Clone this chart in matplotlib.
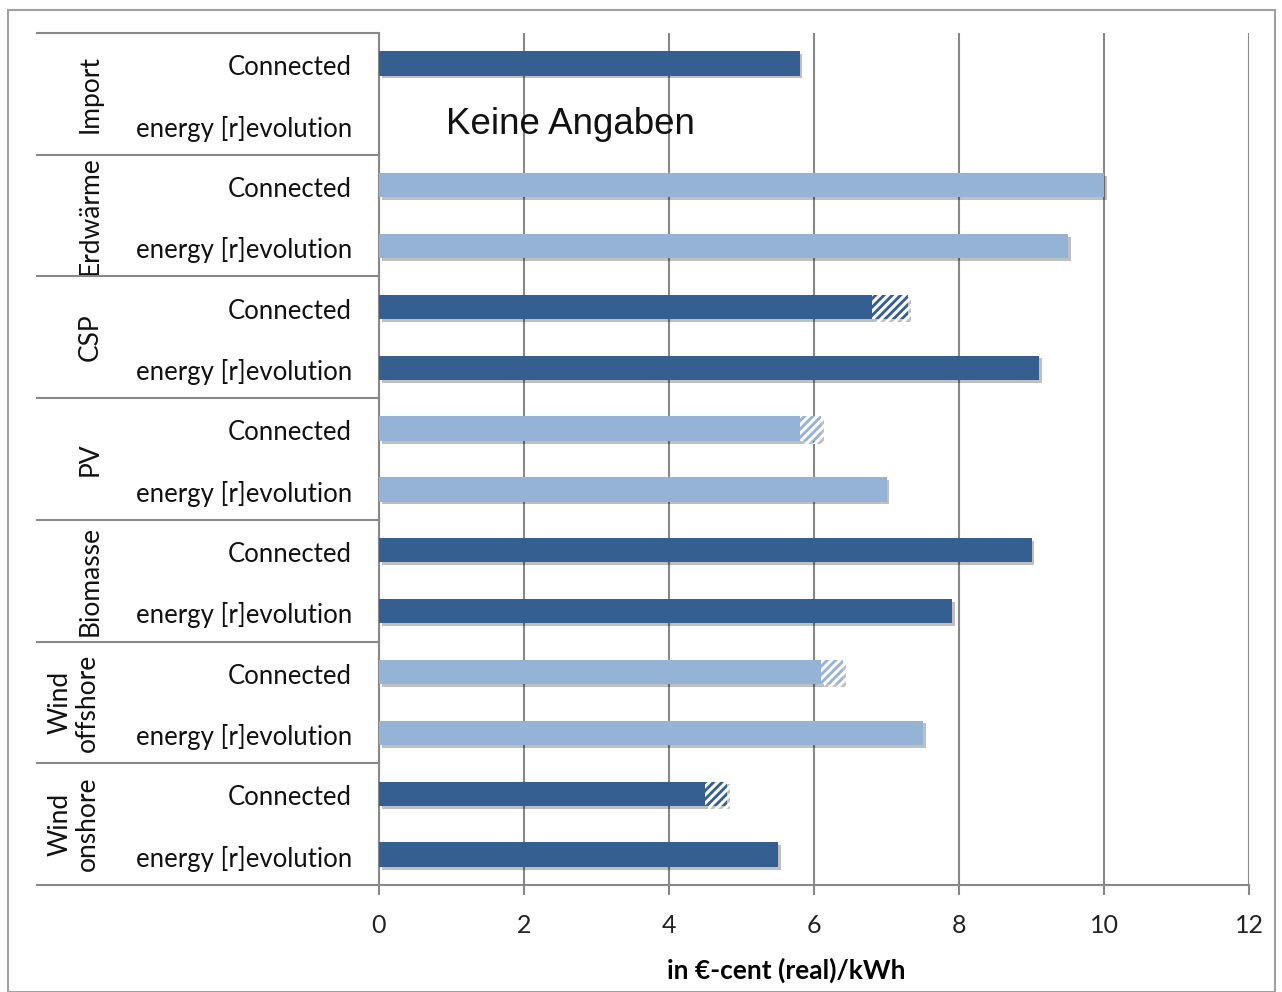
import matplotlib
matplotlib.use("Agg")
import matplotlib.pyplot as plt
import matplotlib.transforms as mtransforms
import matplotlib.patheffects as pe
from matplotlib.patches import Rectangle
import numpy as np

# ---- data ----
groups = ["Import", "Erdwärme", "CSP", "PV", "Biomasse", "Wind\noffshore", "Wind\nonshore"]
subcats = ["Connected", "energy [r]evolution"]
# base value per group: [Connected, energy [r]evolution]
base_connected = [5.8, 10.0, 6.8, 5.8, 9.0, 6.1, 4.5]
base_revolution = [np.nan, 9.5, 9.1, 7.0, 7.9, 7.5, 5.5]
# hatched range extension (Connected only)
hatch_connected = [0.0, 0.0, 0.5, 0.3, 0.0, 0.3, 0.3]
group_shade = ["dark", "light", "dark", "light", "dark", "light", "dark"]
no_data_text = "Keine Angaben"
xticks = [0, 2, 4, 6, 8, 10, 12]
xlabel = "in €-cent (real)/kWh"

colors = {"dark": "#365F91", "light": "#95B3D7"}

plt.rcParams["hatch.color"] = "white"
plt.rcParams["hatch.linewidth"] = 2.2

FONT = ["Lato", "DejaVu Sans"]

fig = plt.figure(figsize=(12.82, 9.92), dpi=100)
W, H = 1282, 992
ax = fig.add_axes([379 / W, 1 - 885 / H, (1249 - 379) / W, (885 - 33) / H])

# outer frame
fig.patches.append(Rectangle((8 / W, 0 / H), (1275 - 8) / W, (982) / H,
                             transform=fig.transFigure, fill=False,
                             edgecolor="#A0A0A0", linewidth=1.5))

shadow = [pe.SimplePatchShadow(offset=(2, -2), shadow_rgbFace="#000000", alpha=0.25), pe.Normal()]

bar_h = 0.4
for gi, g in enumerate(groups):
    c = colors[group_shade[gi]]
    yc = 2 * gi
    yr = 2 * gi + 1
    # Connected
    total = base_connected[gi] + hatch_connected[gi]
    bb = ax.barh(yc, base_connected[gi], height=bar_h, color=c, zorder=3)
    if hatch_connected[gi] > 0:
        hb = ax.barh(yc, hatch_connected[gi], left=base_connected[gi], height=bar_h,
                     facecolor=c, edgecolor="white", linewidth=0, hatch="////", zorder=3)
        for p in hb:
            p.set_path_effects(shadow)
    for p in bb:
        p.set_path_effects(shadow)
    # energy [r]evolution
    if not np.isnan(base_revolution[gi]):
        rb = ax.barh(yr, base_revolution[gi], height=bar_h, color=c, zorder=3)
        for p in rb:
            p.set_path_effects(shadow)
    else:
        ax.text(0.93, yr, no_data_text, fontsize=26.5, family=["Liberation Sans"],
                va="center", ha="left", color="#111111", zorder=4)

ax.set_ylim(13.5, -0.5)
ax.set_xlim(0, 12)
ax.set_xticks(xticks)
ax.set_xticklabels([str(t) for t in xticks], fontsize=18, family=FONT, color="#222222")
ax.tick_params(axis="x", direction="out", length=7, width=1.5, color="#888888", pad=14)
ax.set_yticks([])
ax.grid(axis="x", color="#888888", linewidth=1.5, zorder=0)
ax.set_axisbelow(True)
for s in ["top", "right"]:
    ax.spines[s].set_visible(False)
ax.spines["left"].set_color("#888888")
ax.spines["left"].set_linewidth(1.5)
ax.spines["bottom"].set_color("#888888")
ax.spines["bottom"].set_linewidth(1.5)

ax.set_xlabel(xlabel, fontsize=19, family=FONT, fontweight="bold", labelpad=10)
ax.xaxis.set_label_coords((786 - 379) / (1249 - 379), -0.085)

# left category table
trans = mtransforms.blended_transform_factory(ax.transAxes, ax.transData)
xl = (37 - 379) / (1249 - 379)
for k in range(len(groups) + 1):
    yb = 2 * k - 0.5
    ax.plot([xl, 0], [yb, yb], transform=trans, color="#888888", linewidth=1.5,
            clip_on=False, zorder=5)

x_sub = (352 - 379) / (1249 - 379)
x_grp = (90 - 379) / (1249 - 379)
x_grp2 = (74 - 379) / (1249 - 379)
for gi, g in enumerate(groups):
    for si, s in enumerate(subcats):
        ax.text(x_sub, 2 * gi + si + 0.07, s, transform=trans, ha="right", va="center",
                fontsize=18.5, family=FONT, color="#111111")
    xg = x_grp2 if "\n" in g else x_grp
    ax.text(xg, 2 * gi + 0.5, g, transform=trans, ha="center", va="center",
            rotation=90, fontsize=19, family=FONT, color="#111111",
            linespacing=1.1, multialignment="center")

fig.savefig("out.png", dpi=100)
